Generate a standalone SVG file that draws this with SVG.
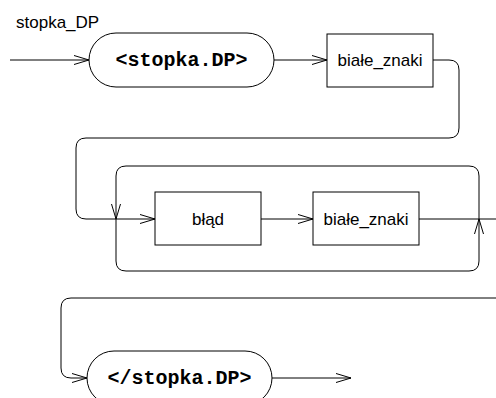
<svg xmlns="http://www.w3.org/2000/svg" width="496" height="398" viewBox="0 0 496 398">
<style>
.term{fill:#fff;stroke:#000;stroke-width:1}
.box{fill:#fff;stroke:#000;stroke-width:1}
.tt{font-family:"Liberation Mono","Courier New",monospace;font-weight:bold;font-size:20px;text-anchor:middle;fill:#000}
.bt{font-family:"Liberation Sans",Arial,sans-serif;font-size:17px;text-anchor:middle;fill:#000}
.ln{fill:none;stroke:#000;stroke-width:1}
</style>
<defs>
<marker id="ar" markerUnits="userSpaceOnUse" markerWidth="17" markerHeight="11" refX="15" refY="5" orient="auto" overflow="visible">
<path d="M0,0.5 L15,5 L0,9.5" fill="none" stroke="#000" stroke-width="1"/>
</marker>
</defs>
<text id="title" x="16" y="28" class="bt" style="text-anchor:start">stopka_DP</text>
<g id="connectors">
<path class="ln" d="M10,60 H89" marker-end="url(#ar)"/>
<path class="ln" d="M274,60 H327" marker-end="url(#ar)"/>
<path class="ln" d="M433,60 H449 Q459,60 459,70 V128 Q459,138 449,138 H86 Q76,138 76,148 V209 Q76,219 86,219 H155" marker-end="url(#ar)"/>
<path class="ln" d="M479,219 V176 Q479,166 469,166 H126 Q116,166 116,176 V219" marker-end="url(#ar)"/>
<path class="ln" d="M116,219 V261 Q116,271 126,271 H469 Q479,271 479,261 V219" marker-end="url(#ar)"/>
<path class="ln" d="M261,219 H313" marker-end="url(#ar)"/>
<path class="ln" d="M419,219 H496"/>
<path class="ln" d="M496,298 H71 Q61,298 61,308 V368 Q61,378 71,378 H87" marker-end="url(#ar)"/>
<path class="ln" d="M272,378 H351" marker-end="url(#ar)"/>
</g>
<g id="t1">
<rect class="term" x="89" y="33" width="185" height="54" rx="27" ry="27"/>
<text class="tt" x="181.5" y="66">&lt;stopka.DP&gt;</text>
</g>
<g id="b1">
<rect class="box" x="327" y="34" width="106" height="53"/>
<text class="bt" x="380" y="66">białe_znaki</text>
</g>
<g id="b2">
<rect class="box" x="155" y="192" width="106" height="53"/>
<text class="bt" x="208" y="225">błąd</text>
</g>
<g id="b3">
<rect class="box" x="313" y="192" width="106" height="53"/>
<text class="bt" x="366" y="225">białe_znaki</text>
</g>
<g id="t2">
<rect class="term" x="87" y="351" width="185" height="54" rx="27" ry="27"/>
<text class="tt" x="179.5" y="384">&lt;/stopka.DP&gt;</text>
</g>
</svg>
